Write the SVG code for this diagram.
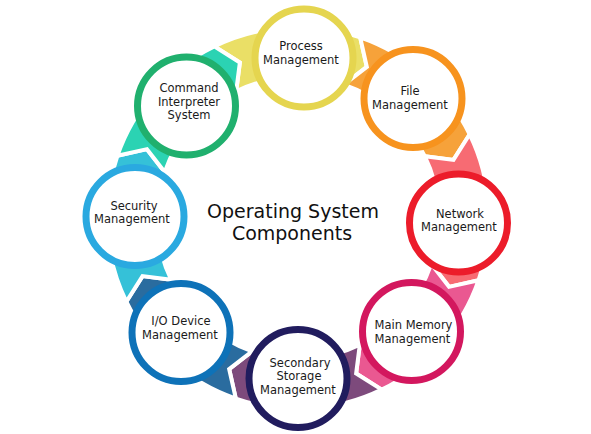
<svg xmlns="http://www.w3.org/2000/svg" width="591" height="434" viewBox="0 0 591 434">
<style>
.band{stroke:#fff;stroke-width:4;stroke-linejoin:miter}
.ring{fill:#fff;stroke-width:7}
.lbl{font-family:"DejaVu Sans",sans-serif;font-size:11.5px;fill:#1a1a1a;text-anchor:middle}
.title{font-family:"DejaVu Sans",sans-serif;font-size:19px;fill:#111;text-anchor:middle}
</style>
<defs>
<path id="arc" d="M 214.27 46.33 A 191 191 0 0 1 360.18 37.41 L 366.84 66.95 L 343.91 84.68 A 141 141 0 0 0 236.19 91.27 L 239.87 62.51 Z"/>
</defs>
<rect width="591" height="434" fill="#fff"/>
<g id="connectors">
<use href="#arc" class="band" fill="#EADF66"/>
<use href="#arc" class="band" fill="#F6A23A" transform="rotate(45 298 218)"/>
<use href="#arc" class="band" fill="#F76B73" transform="rotate(90 298 218)"/>
<use href="#arc" class="band" fill="#EA5891" transform="rotate(135 298 218)"/>
<use href="#arc" class="band" fill="#7D4A7C" transform="rotate(180 298 218)"/>
<use href="#arc" class="band" fill="#2A6C9F" transform="rotate(225 298 218)"/>
<use href="#arc" class="band" fill="#35C1D8" transform="rotate(270 298 218)"/>
<use href="#arc" class="band" fill="#2BD3B3" transform="rotate(315 298 218)"/>
</g>
<g id="process">
<circle class="ring" cx="304" cy="58" r="49" stroke="#E5D54F"/>
<text class="lbl" x="301" y="50">Process</text>
<text class="lbl" x="301" y="64">Management</text>
</g>
<g id="file">
<circle class="ring" cx="413" cy="98.5" r="49" stroke="#F7931E"/>
<text class="lbl" x="410" y="95">File</text>
<text class="lbl" x="410" y="108.5">Management</text>
</g>
<g id="network">
<circle class="ring" cx="458.5" cy="223" r="49" stroke="#EC1C2A"/>
<text class="lbl" x="460" y="218">Network</text>
<text class="lbl" x="459" y="231">Management</text>
</g>
<g id="main-memory">
<circle class="ring" cx="411.5" cy="331.5" r="49" stroke="#D3175E"/>
<text class="lbl" x="413.5" y="329">Main Memory</text>
<text class="lbl" x="412.5" y="342.5">Management</text>
</g>
<g id="secondary-storage">
<circle class="ring" cx="298" cy="378.5" r="49" stroke="#211C5E"/>
<text class="lbl" x="300" y="366.5">Secondary</text>
<text class="lbl" x="299" y="380">Storage</text>
<text class="lbl" x="298" y="393.5">Management</text>
</g>
<g id="io-device">
<circle class="ring" cx="181" cy="332.5" r="49" stroke="#0E72B8"/>
<text class="lbl" x="181" y="325">I/O Device</text>
<text class="lbl" x="180" y="338.5">Management</text>
</g>
<g id="security">
<circle class="ring" cx="135" cy="216.5" r="49" stroke="#2AA9E0"/>
<text class="lbl" x="134" y="210">Security</text>
<text class="lbl" x="132" y="223">Management</text>
</g>
<g id="command-interpreter">
<circle class="ring" cx="186.5" cy="106" r="49" stroke="#20B06E"/>
<text class="lbl" x="189" y="92">Command</text>
<text class="lbl" x="189" y="105.5">Interpreter</text>
<text class="lbl" x="189" y="119">System</text>
</g>
<g id="title">
<text class="title" x="293" y="218">Operating System</text>
<text class="title" x="292" y="240">Components</text>
</g>
</svg>
